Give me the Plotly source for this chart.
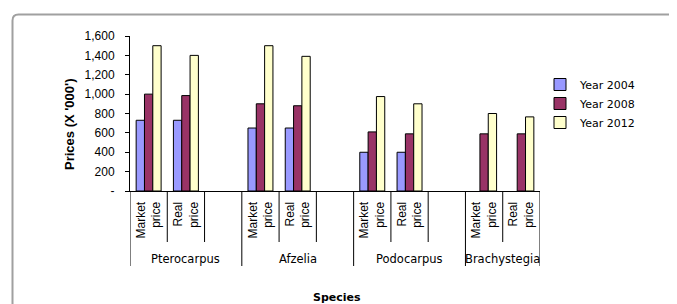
import plotly.graph_objects as go

# ---- data ----
species = ["Pterocarpus", "Afzelia", "Podocarpus", "Brachystegia"]
category_keys = [
    "Pterocarpus|Market", "Pterocarpus|Real", "Pterocarpus|gap",
    "Afzelia|Market", "Afzelia|Real", "Afzelia|gap",
    "Podocarpus|Market", "Podocarpus|Real", "Podocarpus|gap",
    "Brachystegia|Market", "Brachystegia|Real",
]
tick_labels = [
    "Market<br>price", "Real<br>price", "",
    "Market<br>price", "Real<br>price", "",
    "Market<br>price", "Real<br>price", "",
    "Market<br>price", "Real<br>price",
]
year_2004 = [730, 730, None, 650, 650, None, 400, 400, None, None, None]
year_2008 = [1000, 985, None, 900, 880, None, 610, 590, None, 590, 590]
year_2012 = [1500, 1400, None, 1500, 1390, None, 975, 900, None, 800, 765]
series_names = ["Year 2004", "Year 2008", "Year 2012"]
y_tick_vals = [0, 200, 400, 600, 800, 1000, 1200, 1400, 1600]
y_tick_text = ["-", "200", "400", "600", "800", "1,000", "1,200", "1,400", "1,600"]

# species group spans (first and last category index)
species_spans = [(0, 2), (3, 5), (6, 8), (9, 10)]

colors = ["#9999FF", "#993366", "#FFFFCC"]

fig = go.Figure()
for name, vals, col in zip(series_names, [year_2004, year_2008, year_2012], colors):
    fig.add_trace(go.Bar(
        x=category_keys, y=vals, name=name,
        marker=dict(color=col, line=dict(color="black", width=1)),
    ))

# page body has an 8px margin; work in window pixels and compensate
OFF = 8
W, H = 677, 304
L, R, T, B = 130 - OFF, 540 - OFF, 36 - OFF, 191 - OFF
pw, ph = R - L, B - T


def px_x(p):
    return (p - OFF - L) / pw


def px_y(p):
    return (B - (p - OFF)) / ph


shapes = []
group_bounds = set()
for a, b in species_spans:
    group_bounds.add(a - 0.5)
    group_bounds.add(b + 0.5)
for i in range(len(category_keys) - 1):
    pos = i + 0.5
    if pos not in group_bounds:
        shapes.append(dict(type="line", xref="x", yref="paper", x0=pos, x1=pos,
                           y0=0, y1=px_y(242), line=dict(color="black", width=1)))
for pos in sorted(group_bounds):
    shapes.append(dict(type="line", xref="x", yref="paper", x0=pos, x1=pos,
                       y0=0, y1=px_y(266), line=dict(color="black", width=1)))

# chart area border (rounded corner top-left)
xl, yt = px_x(12.5), px_y(14.5)
xr_, yb = px_x(720), px_y(340)
xc, yc = px_x(18.5), px_y(20.5)
shapes.append(dict(type="path", xref="paper", yref="paper",
                   path=f"M {xl},{yb} L {xl},{yc} Q {xl},{yt} {xc},{yt} L {xr_},{yt}",
                   line=dict(color="#a0a0a0", width=2)))

annotations = []
for sp, (a, b) in zip(species, species_spans):
    annotations.append(dict(text=sp, xref="x", yref="paper", x=(a + b) / 2, y=px_y(259),
                            showarrow=False, xanchor="center", yanchor="middle",
                            font=dict(family="DejaVu Sans", size=11.5, color="black")))
annotations.append(dict(text="<b>Species</b>", xref="paper", yref="paper",
                        x=px_x(337), y=px_y(297), showarrow=False,
                        xanchor="center", yanchor="middle",
                        font=dict(family="DejaVu Sans", size=11, color="black")))
annotations.append(dict(text="<b>Prices (X '000')</b>", xref="paper", yref="paper",
                        x=px_x(69), y=px_y(125), showarrow=False, textangle=-90,
                        xanchor="center", yanchor="middle",
                        font=dict(family="Liberation Sans, Arial", size=13, color="black")))

fig.update_layout(
    width=W, height=H,
    margin=dict(l=L, r=W - R, t=T, b=H - B, pad=0),
    paper_bgcolor="white", plot_bgcolor="white",
    barmode="group", bargap=0.33, bargroupgap=0,
    showlegend=True,
    legend=dict(x=px_x(540), xanchor="left", y=px_y(70), yanchor="top",
                font=dict(family="DejaVu Sans", size=11, color="black"),
                bgcolor="rgba(0,0,0,0)", tracegroupgap=0),
    xaxis=dict(type="category", categoryorder="array", categoryarray=category_keys,
               tickmode="array", tickvals=category_keys, ticktext=tick_labels,
               tickangle=-90, ticks="", showline=True, linecolor="black", linewidth=1,
               showgrid=False, zeroline=False, ticklabelstandoff=5,
               tickfont=dict(family="Liberation Sans, Arial", size=12, color="black"),
               range=[-0.5, len(category_keys) - 0.5]),
    yaxis=dict(range=[0, 1600], tickmode="array", tickvals=y_tick_vals, ticktext=y_tick_text,
               ticks="outside", ticklen=4, tickcolor="black", showline=True,
               linecolor="black", linewidth=1, showgrid=False, zeroline=False,
               ticklabelstandoff=8,
               tickfont=dict(family="Liberation Sans, Arial", size=12, color="black")),
    shapes=shapes, annotations=annotations,
)

fig.write_html("out.html")
